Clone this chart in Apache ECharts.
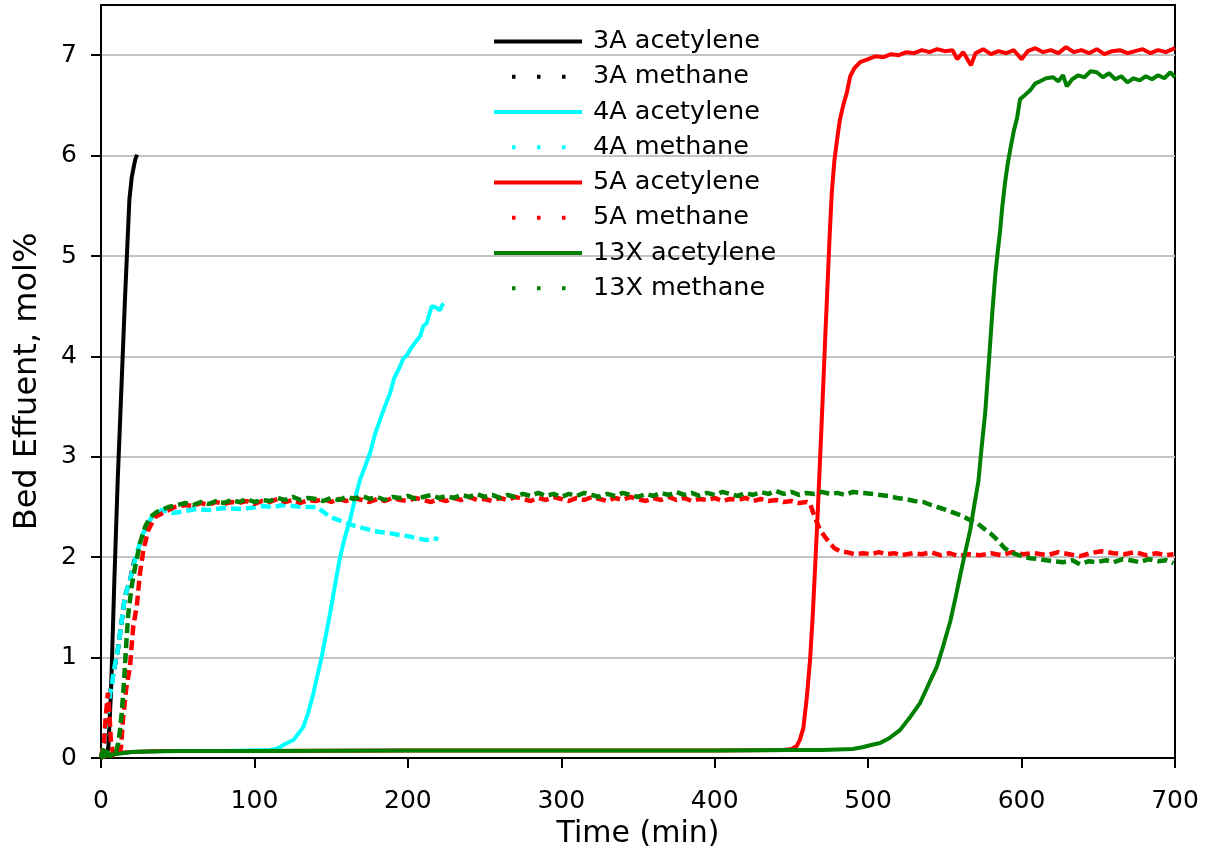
<!DOCTYPE html>
<html>
<head>
<meta charset="utf-8">
<script src="https://cdn.jsdelivr.net/npm/echarts@6/dist/echarts.min.js"></script>
<style>
html,body{margin:0;padding:0;background:#fff;}
#chart{width:1206px;height:857px;}
</style>
</head>
<body>
<div id="chart"></div>
<script>
// ---- data: [time (min), bed effluent (mol%)] ----
var seriesNames = ['3A acetylene','3A methane','4A acetylene','4A methane','5A acetylene','5A methane','13X acetylene','13X methane'];
var xTicks = [0,100,200,300,400,500,600,700];
var yTicks = [0,1,2,3,4,5,6,7];

var a3Acetylene = [[3.5,0],[4.8,0.11],[6.5,0.65],[8.7,1.77],[10.9,2.77],[13,3.57],[15.6,4.56],[18.5,5.56],[20,5.78],[21.5,5.9],[22.5,5.97],[23.5,6.01]];

var a3Methane = [[0,0],[2,0.15],[4,0.4],[5.9,0.64],[8,0.84],[11.3,1.11],[15.6,1.61],[18.9,1.77],[22,1.98]];

var a4Acetylene = [[0,0],[3,0.02],[6,0.04],[10,0.05],[20,0.06],[40,0.07],[80,0.07],[110,0.08],[114,0.09],[116.7,0.11],[120,0.14],[125.4,0.18],[129,0.25],[131.9,0.31],[135,0.45],[138.4,0.64],[141,0.82],[143.9,1.01],[149.3,1.44],[152.5,1.72],[155.8,2.0],[159,2.2],[162.3,2.37],[165.5,2.58],[168.8,2.77],[172,2.9],[175.4,3.04],[178.5,3.22],[181.9,3.37],[185,3.5],[188.4,3.63],[191,3.78],[194.9,3.9],[197,3.98],[199.3,4.01],[202,4.08],[205.8,4.16],[208,4.2],[210,4.3],[212.3,4.33],[214,4.42],[215.6,4.5],[218,4.49],[221,4.46],[222,4.5],[223.2,4.53]];

var a4Methane = [[0,0],[2,0.15],[4,0.4],[5.9,0.64],[7,0.71],[8,0.84],[11.3,1.11],[15.6,1.61],[18.9,1.77],[23.3,2.04],[27.6,2.24],[33,2.4],[39.6,2.47],[47,2.44],[55,2.46],[62,2.48],[70,2.47],[80,2.49],[90,2.48],[97,2.49],[105,2.51],[112,2.5],[118.8,2.52],[125,2.51],[132,2.5],[140.6,2.5],[145,2.45],[149.3,2.4],[155,2.37],[160.2,2.34],[166,2.31],[171,2.29],[176,2.27],[181.9,2.25],[188,2.24],[195,2.22],[200,2.21],[205.8,2.19],[212,2.17],[216,2.19],[219.9,2.18]];

var a5Acetylene = [[0,0],[3,0.02],[6,0.03],[10,0.05],[20,0.06],[40,0.07],[100,0.07],[200,0.075],[300,0.075],[400,0.075],[445,0.08],[450,0.09],[453.5,0.12],[455.5,0.18],[457.8,0.3],[460,0.6],[462.2,0.99],[464,1.45],[465.5,1.92],[467,2.4],[468.3,2.85],[469.6,3.3],[470.9,3.77],[472.2,4.25],[473.5,4.7],[474.9,5.2],[476.3,5.63],[478,5.95],[479.6,6.14],[481.5,6.35],[483.9,6.51],[486,6.62],[488.3,6.79],[491,6.87],[494.8,6.93],[500,6.96],[505,6.99],[510,6.98],[515,7.01],[520,7.0],[525,7.03],[530,7.02],[535,7.05],[540,7.03],[545,7.06],[550,7.04],[555,7.05],[558,6.96],[562,7.03],[567,6.9],[570,7.02],[575,7.06],[580,7.01],[585,7.04],[590,7.02],[595,7.05],[600,6.96],[604,7.04],[609,7.07],[614,7.03],[619,7.05],[624,7.02],[629,7.08],[634,7.03],[639,7.05],[644,7.02],[649,7.06],[654,7.01],[659,7.04],[664,7.05],[669,7.02],[674,7.04],[679,7.06],[684,7.02],[689,7.05],[694,7.03],[700,7.07]];

var a5Methane = [[0,0],[2,0.15],[3,0.4],[4.5,0.65],[5.5,0.45],[6.5,0.15],[8,0.03],[11,0.02],[13,0.1],[14.5,0.41],[16.5,0.7],[18.9,0.91],[21,1.31],[23.3,1.51],[25.4,1.84],[27.6,2.07],[30.8,2.27],[35.2,2.4],[41.7,2.45],[48.2,2.5],[55,2.52],[60,2.51],[65,2.54],[70,2.52],[75,2.55],[80,2.53],[85,2.55],[90,2.54],[95,2.56],[100,2.53],[105,2.56],[110,2.55],[115,2.58],[120,2.55],[125,2.57],[130,2.54],[135,2.57],[140,2.56],[145,2.58],[150,2.55],[155,2.58],[160,2.56],[165,2.59],[170,2.57],[175,2.55],[180,2.58],[185,2.56],[190,2.59],[195,2.57],[200,2.56],[205,2.59],[210,2.57],[215,2.55],[220,2.58],[225,2.56],[230,2.59],[235,2.57],[240,2.6],[245,2.57],[250,2.58],[255,2.56],[260,2.59],[265,2.57],[270,2.6],[275,2.58],[280,2.56],[285,2.59],[290,2.57],[295,2.6],[300,2.58],[305,2.56],[310,2.59],[315,2.57],[320,2.6],[325,2.58],[330,2.56],[335,2.59],[340,2.57],[345,2.6],[350,2.58],[355,2.56],[360,2.59],[365,2.57],[370,2.6],[375,2.57],[380,2.59],[385,2.56],[390,2.58],[395,2.57],[400,2.59],[405,2.56],[410,2.58],[415,2.57],[420,2.59],[425,2.56],[430,2.58],[435,2.56],[440,2.57],[445,2.55],[450,2.56],[455,2.54],[460,2.55],[462,2.54],[464,2.45],[466.5,2.35],[468.7,2.27],[472,2.2],[475,2.14],[478,2.09],[481.7,2.06],[486,2.05],[491,2.03],[496.7,2.04],[502,2.03],[507,2.05],[512,2.03],[517,2.04],[522,2.02],[529,2.04],[535,2.03],[541,2.05],[547,2.02],[553,2.04],[559,2.01],[565,2.03],[573,2.02],[580,2.04],[587,2.02],[594,2.05],[601,2.03],[608,2.04],[616.7,2.02],[624,2.05],[631,2.03],[638,2.01],[645,2.04],[652,2.06],[660,2.04],[667,2.03],[674,2.05],[681,2.02],[688,2.04],[694,2.02],[699,2.03]];

var x13Acetylene = [[0,0],[2,0.02],[5,0.03],[10,0.04],[15,0.05],[20,0.06],[30,0.065],[50,0.07],[100,0.07],[200,0.075],[300,0.075],[400,0.075],[450,0.08],[470,0.08],[480,0.085],[490,0.09],[497,0.11],[502,0.13],[507.8,0.15],[514,0.2],[520.9,0.28],[527,0.4],[533.9,0.55],[539,0.72],[544.8,0.91],[549,1.12],[553.5,1.36],[557,1.6],[560,1.82],[563,2.03],[566.5,2.27],[569,2.5],[571.9,2.76],[574,3.1],[576.3,3.44],[578,3.8],[579.5,4.12],[581,4.45],[582.8,4.8],[584.5,5.05],[586,5.25],[587.5,5.5],[589.3,5.74],[591,5.92],[592.6,6.06],[595,6.25],[597,6.37],[599,6.56],[602,6.6],[605.6,6.65],[609,6.72],[612,6.74],[616,6.77],[620.6,6.78],[624,6.74],[627,6.8],[629.5,6.69],[633,6.76],[637,6.8],[641,6.78],[645,6.84],[649,6.83],[653,6.78],[657,6.82],[661,6.76],[665,6.79],[669,6.73],[673,6.77],[677,6.75],[681,6.79],[685,6.76],[689,6.8],[693,6.77],[697,6.83],[700,6.78]];

var x13Methane = [[0,0],[1.5,0.08],[2.6,0.11],[4,0.05],[6,0.02],[9,0.03],[11.3,0.15],[12.4,0.28],[13.5,0.45],[14.5,0.65],[15.6,0.91],[16.7,1.2],[17.8,1.44],[20,1.71],[22.2,1.9],[25.4,2.14],[28.7,2.3],[32,2.4],[36.3,2.45],[43.9,2.5],[50,2.52],[55,2.54],[60,2.52],[65,2.55],[70,2.53],[75,2.56],[80,2.54],[85,2.57],[90,2.55],[95,2.58],[100,2.55],[105,2.57],[110,2.56],[115,2.59],[120,2.57],[125,2.6],[130,2.57],[135,2.59],[140,2.58],[145,2.56],[150,2.59],[155,2.57],[160,2.6],[165,2.58],[170,2.61],[175,2.58],[180,2.6],[185,2.57],[190,2.6],[195,2.59],[200,2.61],[205,2.58],[210,2.6],[215,2.62],[220,2.59],[225,2.61],[230,2.59],[235,2.62],[240,2.6],[245,2.63],[250,2.6],[255,2.62],[260,2.59],[265,2.62],[270,2.6],[275,2.63],[280,2.61],[285,2.64],[290,2.61],[295,2.63],[300,2.6],[305,2.63],[310,2.61],[315,2.64],[320,2.62],[325,2.6],[330,2.63],[335,2.61],[340,2.64],[345,2.62],[350,2.6],[355,2.63],[360,2.61],[365,2.64],[370,2.62],[375,2.65],[380,2.62],[385,2.64],[390,2.61],[395,2.64],[400,2.62],[405,2.65],[410,2.63],[415,2.61],[420,2.64],[425,2.62],[430,2.65],[435,2.63],[440,2.66],[445,2.63],[450,2.65],[455,2.62],[460,2.64],[465,2.63],[470,2.65],[475,2.63],[480,2.64],[485,2.62],[490,2.65],[497,2.64],[503,2.63],[508,2.62],[513,2.61],[519,2.59],[524,2.58],[530,2.56],[536,2.55],[541,2.52],[547,2.49],[553,2.46],[560,2.42],[565,2.38],[571,2.34],[575,2.29],[579.5,2.24],[583,2.19],[586,2.14],[589,2.09],[592.6,2.05],[598,2.02],[605.6,1.99],[612,1.98],[620,1.96],[627,1.95],[633,1.97],[638,1.93],[644,1.96],[649,1.95],[655,1.97],[660,1.95],[666,1.98],[671,1.97],[677,1.95],[683,1.98],[689,1.96],[694,1.97],[699,1.94]];

var seriesData = [a3Acetylene, a3Methane, a4Acetylene, a4Methane, a5Acetylene, a5Methane, x13Acetylene, x13Methane];
var seriesColors = ['#000000','#000000','#00ffff','#00ffff','#ff0000','#ff0000','#008000','#008000'];

var FONT = 'DejaVu Sans';
var series = seriesNames.map(function(name, i){
  var methane = (i % 2 === 1);
  return {
    name: name,
    type: 'line',
    data: seriesData[i],
    showSymbol: false,
    symbol: 'none',
    animation: false,
    color: seriesColors[i],
    lineStyle: methane
      ? {color: seriesColors[i], width: 4.5, type: [10, 5]}
      : {color: seriesColors[i], width: 4, type: 'solid'},
    z: 2 + i
  };
});

var legendData = seriesNames.map(function(name, i){
  var methane = (i % 2 === 1);
  return {
    name: name,
    itemStyle: {opacity: 0, borderWidth: 0},
    lineStyle: methane
      ? {color: seriesColors[i], width: 4, type: [3.5, 21.5], dashOffset: 7}
      : {color: seriesColors[i], width: 4, type: 'solid'}
  };
});

var chart = echarts.init(document.getElementById('chart'), null, {renderer: 'canvas'});
chart.setOption({
  backgroundColor: '#ffffff',
  animation: false,
  textStyle: {fontFamily: FONT},
  grid: {left: 101, right: 31, top: 5, bottom: 99, show: true, borderColor: '#000', borderWidth: 2, backgroundColor: 'transparent'},
  legend: {
    orient: 'vertical',
    left: 492,
    top: 28.5,
    padding: 0,
    itemWidth: 88,
    itemHeight: 14,
    itemGap: 9.25,
    data: legendData,
    textStyle: {fontSize: 25.5, fontFamily: FONT, color: '#000', lineHeight: 25.5, padding: [0, 0, 0, 6]},
    selectedMode: false
  },
  xAxis: {
    type: 'value',
    min: 0, max: 700, interval: 100,
    name: 'Time (min)',
    nameLocation: 'middle',
    nameGap: 60,
    nameTextStyle: {fontSize: 30, fontFamily: FONT, color: '#000'},
    axisLine: {show: true, lineStyle: {color: '#000', width: 2}},
    axisTick: {show: true, inside: false, length: 10, lineStyle: {color: '#000', width: 2}},
    axisLabel: {margin: 31, fontSize: 25, fontFamily: FONT, color: '#000', customValues: xTicks},
    splitLine: {show: false}
  },
  yAxis: {
    type: 'value',
    min: 0, max: 7.5, interval: 1,
    name: 'Bed Effuent, mol%',
    nameLocation: 'middle',
    nameGap: 57,
    nameTextStyle: {fontSize: 32, fontFamily: FONT, color: '#000'},
    axisLine: {show: true, lineStyle: {color: '#000', width: 2}},
    axisTick: {show: true, inside: false, length: 10, lineStyle: {color: '#000', width: 2}, customValues: yTicks},
    axisLabel: {margin: 24, fontSize: 25, fontFamily: FONT, color: '#000', customValues: yTicks},
    splitLine: {show: true, lineStyle: {color: '#c4c4c4', width: 2}}
  },
  series: series
});
</script>
</body>
</html>
